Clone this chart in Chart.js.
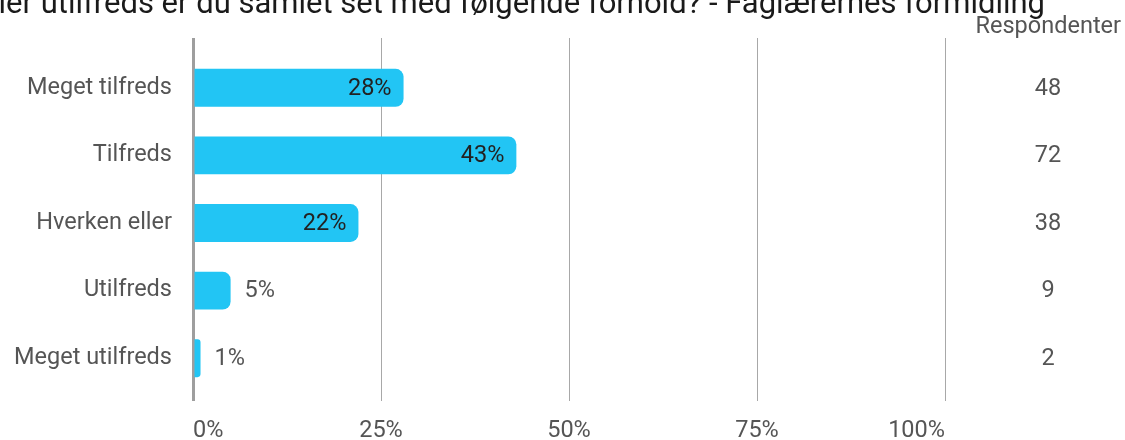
<!DOCTYPE html>
<html lang="da">
<head>
<meta charset="utf-8">
<script src="https://cdn.jsdelivr.net/npm/chart.js@4"></script>
<style>
  body { margin: 0; background: #fff; }
  #wrap { width: 1125px; height: 440px; position: relative; }
</style>
</head>
<body>
<div id="wrap"><canvas id="myChart"></canvas></div>
<script>
// Data
const titel = 'Hvor tilfreds eller utilfreds er du samlet set med følgende forhold? - Faglærernes formidling';
const kategorier = ['Meget tilfreds', 'Tilfreds', 'Hverken eller', 'Utilfreds', 'Meget utilfreds'];
const procenter = [28, 43, 22, 5, 1];
const respondenter = [48, 72, 38, 9, 2];
const procentTicks = [0, 25, 50, 75, 100];

const FONT = 'Roboto, "Noto Sans", sans-serif';
const BLAA = '#22c5f4';
const GRID = '#a8a8a8';

// titel, procent-labels og antal respondenter tegnes efter grafen
const ekstraTekst = {
  id: 'ekstraTekst',
  afterDraw(chart) {
    const ctx = chart.ctx;
    const yScale = chart.scales.y;
    const bars = chart.getDatasetMeta(0).data;
    ctx.save();

    // titel (skaaret af i toppen ligesom originalen)
    ctx.font = '31px ' + FONT;
    ctx.fillStyle = '#1a1a1a';
    ctx.textAlign = 'right';
    ctx.textBaseline = 'alphabetic';
    ctx.fillText(titel, 1045, 13);

    // procent ved hver bar
    ctx.font = '23.5px ' + FONT;
    ctx.textBaseline = 'middle';
    bars.forEach((bar, i) => {
      const txt = procenter[i] + '%';
      if (procenter[i] >= 10) {
        ctx.textAlign = 'right';
        ctx.fillStyle = '#222';
        ctx.fillText(txt, bar.x - 12, bar.y + 1);
      } else {
        ctx.textAlign = 'left';
        ctx.fillStyle = '#555';
        ctx.fillText(txt, bar.x + 14, bar.y + 1);
      }
    });

    // respondenter i hoejre side
    ctx.fillStyle = '#555';
    ctx.textAlign = 'right';
    ctx.font = '23.5px ' + FONT;
    ctx.fillText('Respondenter', 1121, 27);
    ctx.textAlign = 'center';
    respondenter.forEach((n, i) => {
      ctx.fillText(String(n), 1048, yScale.getPixelForValue(i) + 1);
    });
    ctx.restore();
  }
};

const gridBredde = (c) => (c.tick && c.tick.value === 0 ? 3 : 1);
const gridFarve = (c) => (c.tick && c.tick.value === 0 ? '#9e9e9e' : GRID);

const ctx = document.getElementById('myChart').getContext('2d');
const myChart = new Chart(ctx, {
  type: 'bar',
  data: {
    labels: kategorier,
    datasets: [{
      data: procenter,
      backgroundColor: BLAA,
      borderWidth: 0,
      borderRadius: 8,
      borderSkipped: 'start',
      barPercentage: 0.56,
      categoryPercentage: 1
    }]
  },
  options: {
    indexAxis: 'y',
    responsive: true,
    maintainAspectRatio: false,
    animation: false,
    layout: { padding: { top: 38, right: 180, left: 0, bottom: 0 } },
    plugins: {
      legend: { display: false },
      tooltip: { enabled: false }
    },
    scales: {
      x: {
        position: 'bottom',
        min: 0,
        max: 100,
        afterBuildTicks: (s) => { s.ticks = procentTicks.map(v => ({ value: v })); },
        afterFit: (s) => { s.height = 48; },
        grid: { color: gridFarve, lineWidth: gridBredde, tickLength: 9, drawTicks: true },
        border: { display: false },
        ticks: {
          align: 'inner',
          padding: 16,
          color: '#555',
          font: { family: FONT, size: 23.5 },
          callback: (v) => v + '%'
        }
      },
      x2: {
        position: 'top',
        axis: 'x',
        min: 0,
        max: 100,
        afterBuildTicks: (s) => { s.ticks = procentTicks.map(v => ({ value: v })); },
        afterFit: (s) => { s.height = 16; },
        grid: { drawOnChartArea: false, color: gridFarve, lineWidth: gridBredde, tickLength: 16 },
        border: { display: false },
        ticks: { display: false }
      },
      y: {
        afterFit: (s) => { s.width = 193; },
        grid: { display: false, drawTicks: false },
        border: { display: false },
        ticks: {
          padding: 21,
          color: '#555',
          font: { family: FONT, size: 23.5 }
        }
      }
    }
  },
  plugins: [ekstraTekst]
});
</script>
</body>
</html>
